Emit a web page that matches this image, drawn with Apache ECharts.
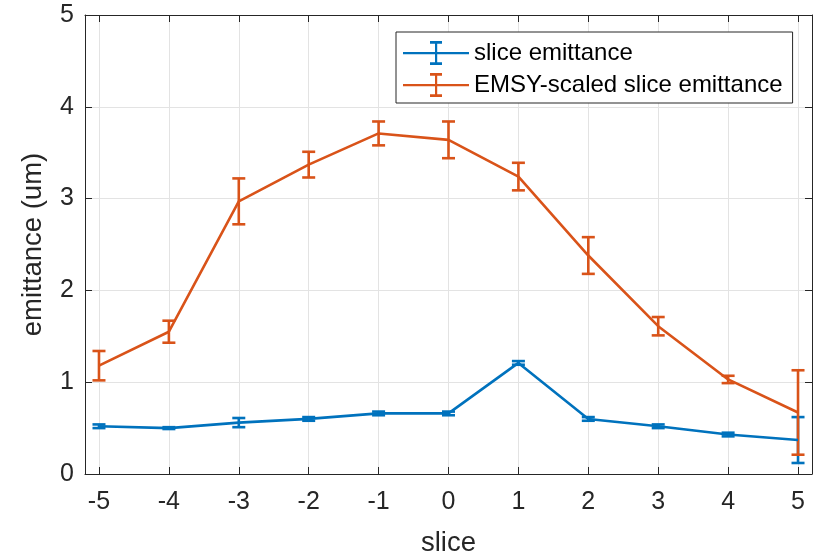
<!DOCTYPE html>
<html>
<head>
<meta charset="utf-8">
<script src="https://cdn.jsdelivr.net/npm/echarts@6/dist/echarts.min.js"></script>
<style>html,body{margin:0;padding:0;background:#fff}#c{width:823px;height:553px}</style>
</head>
<body>
<div id="c"></div>
<script>
const slices = [-5, -4, -3, -2, -1, 0, 1, 2, 3, 4, 5];
const sliceEmit = [0.52, 0.50, 0.56, 0.60, 0.66, 0.66, 1.21, 0.60, 0.52, 0.43, 0.37];
const sliceErr  = [0.02, 0.01, 0.05, 0.02, 0.02, 0.02, 0.02, 0.02, 0.02, 0.02, 0.25];
const emsyEmit  = [1.18, 1.55, 2.97, 3.37, 3.71, 3.64, 3.24, 2.38, 1.61, 1.03, 0.67];
const emsyErr   = [0.16, 0.12, 0.25, 0.14, 0.13, 0.20, 0.15, 0.20, 0.10, 0.04, 0.46];
const yTicks = [0, 1, 2, 3, 4, 5];
const names = ['slice emittance', 'EMSY-scaled slice emittance'];
const colors = ['#0072BD', '#D95319'];

const FONT = '"Liberation Sans", Arial, Helvetica, sans-serif';
const AX = '#262626';
const GRIDC = '#e3e3e3';

const icon = 'path://M0 11 H66 V13.2 H0 Z M32 2 H34.2 V22 H32 Z M27 1 H39 V3.5 H27 Z M27 20.5 H39 V23 H27 Z';

function errSeries(name, color, vals, errs) {
  const data = slices.map((x, i) => [x, vals[i] - errs[i], vals[i] + errs[i]]);
  return {
    name: name, type: 'custom', z: 3,
    data: data,
    renderItem: function (params, api) {
      const x = api.value(0);
      const lo = api.coord([x, api.value(1)]);
      const hi = api.coord([x, api.value(2)]);
      const w = 6.5;
      const st = { stroke: color, lineWidth: 2.6, fill: null };
      return {
        type: 'group',
        children: [
          { type: 'line', shape: { x1: lo[0], y1: lo[1], x2: hi[0], y2: hi[1] }, style: st },
          { type: 'line', shape: { x1: lo[0] - w, y1: lo[1], x2: lo[0] + w, y2: lo[1] }, style: st },
          { type: 'line', shape: { x1: hi[0] - w, y1: hi[1], x2: hi[0] + w, y2: hi[1] }, style: st }
        ]
      };
    }
  };
}

function lineSeries(name, color, vals) {
  return {
    name: name, type: 'line', z: 3,
    data: slices.map((x, i) => [x, vals[i]]),
    showSymbol: false, symbol: 'none',
    lineStyle: { color: color, width: 2.6 },
    itemStyle: { color: color },
    animation: false
  };
}

const xBase = {
  type: 'value', min: -5.2, max: 5.2,
  axisLine: { show: true, onZero: false, lineStyle: { color: AX, width: 1 } },
  axisTick: { show: true, inside: true, length: 7, customValues: slices, lineStyle: { color: AX } },
  splitLine: { show: false }
};
const yBase = {
  type: 'value', min: 0, max: 5, interval: 1,
  axisLine: { show: true, onZero: false, lineStyle: { color: AX, width: 1 } },
  axisTick: { show: true, inside: true, length: 7, lineStyle: { color: AX } },
  splitLine: { show: false }
};

const option = {
  animation: false,
  backgroundColor: '#fff',
  grid: { left: 85, top: 15, right: 11, bottom: 79, containLabel: false, outerBoundsMode: 'none' },
  xAxis: [
    Object.assign({}, xBase, {
      position: 'bottom',
      name: 'slice', nameLocation: 'middle', nameGap: 55,
      nameTextStyle: { color: AX, fontSize: 27.5, fontFamily: FONT },
      axisLabel: { show: true, customValues: slices, margin: 16, color: AX, fontSize: 25, fontFamily: FONT },
      splitLine: { show: true, lineStyle: { color: GRIDC, width: 1 } }
    }),
    Object.assign({}, xBase, { position: 'top', axisLabel: { show: false } })
  ],
  yAxis: [
    Object.assign({}, yBase, {
      position: 'left',
      name: 'emittance (um)', nameLocation: 'middle', nameGap: 38,
      nameTextStyle: { color: AX, fontSize: 27.5, fontFamily: FONT },
      axisLabel: { show: true, margin: 11, color: AX, fontSize: 25, fontFamily: FONT },
      splitLine: { show: true, lineStyle: { color: GRIDC, width: 1 } }
    }),
    Object.assign({}, yBase, { position: 'right', axisLabel: { show: false } })
  ],
  legend: {
    show: true, orient: 'vertical', left: 396, top: 32,
    padding: [9, 10, 6, 7],
    itemWidth: 66, itemHeight: 24, itemGap: 8,
    symbolKeepAspect: false,
    borderColor: AX, borderWidth: 1, borderRadius: 0,
    backgroundColor: '#fff',
    textStyle: { color: '#000', fontSize: 24, fontFamily: FONT },
    selectedMode: false,
    data: [
      { name: names[0], icon: icon, itemStyle: { color: colors[0] } },
      { name: names[1], icon: icon, itemStyle: { color: colors[1] } }
    ]
  },
  series: [
    lineSeries(names[0], colors[0], sliceEmit),
    errSeries(names[0], colors[0], sliceEmit, sliceErr),
    lineSeries(names[1], colors[1], emsyEmit),
    errSeries(names[1], colors[1], emsyEmit, emsyErr)
  ]
};

const chart = echarts.init(document.getElementById('c'), null, { renderer: 'canvas' });
chart.setOption(option);
</script>
</body>
</html>
